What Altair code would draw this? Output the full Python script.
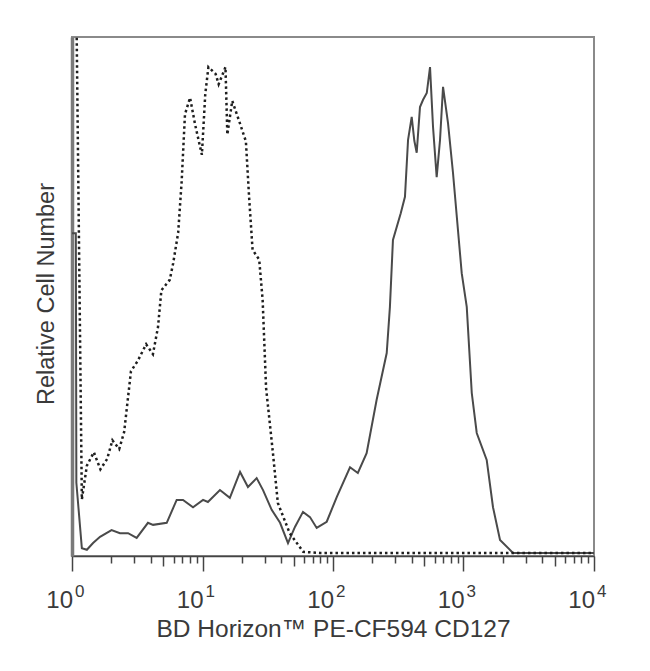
import altair as alt
import pandas as pd

# Solid histogram (stained sample)
solid_x = [1.0, 1.07, 1.08, 1.19, 1.30, 1.45, 1.64, 2.01, 2.33, 2.69, 3.13, 3.82, 4.18, 5.32,
           6.34, 7.09, 8.46, 10.1, 11.0, 13.6, 16.2, 19.4, 22.3, 26.0, 29.1, 33.9, 39.3,
           45.2, 51.1, 58.9, 66.6, 75.0, 89.5, 107, 135, 155, 181, 216, 258, 273, 288,
           330, 356, 376, 401, 420, 438, 464, 490, 523, 554, 584, 623, 661, 697, 761,
           831, 969, 1059, 1157, 1263, 1506, 1683, 1905, 2395, 10000]
solid_y = [62.2, 62.2, 14.1, 1.5, 1.2, 2.5, 3.7, 5.0, 4.4, 4.4, 3.5, 6.4, 6.0, 6.4,
           10.8, 10.8, 9.4, 10.8, 10.4, 12.7, 11.2, 16.2, 13.3, 15.0, 12.7, 8.9, 6.4,
           2.5, 5.6, 8.5, 7.5, 5.4, 6.6, 11.4, 17.1, 16.0, 19.8, 30.1, 39.1, 48.0, 60.9,
           66.0, 69.2, 80.2, 84.6, 80.0, 77.7, 86.5, 87.9, 89.2, 94.2, 82.7, 73.0, 80.2, 90.4, 83.4,
           73.8, 54.5, 48.0, 31.4, 23.7, 18.5, 9.4, 3.1, 0.6, 0.6]

# Dashed histogram (isotype control)
dashed_x = [1.0, 1.07, 1.19, 1.30, 1.47, 1.65, 1.86, 2.04, 2.30, 2.51, 2.83, 3.19, 3.70,
            4.17, 4.56, 4.84, 5.61, 5.96, 6.51, 6.92, 7.34, 8.03, 8.78, 9.89, 10.5, 11.1,
            12.6, 13.3, 15.0, 15.5, 16.9, 19.1, 21.5, 22.8, 24.2, 27.2, 28.9, 30.7, 34.6,
            37.8, 46.6, 59.1, 79.0, 10000]
dashed_y = [115, 115, 10.9, 17.4, 20.0, 16.7, 18.7, 22.3, 20.6, 23.9, 35.6, 37.6, 40.8,
            38.9, 44.1, 51.2, 53.2, 56.4, 62.3, 72.1, 85.1, 88.3, 83.1, 77.3, 89.0, 94.2,
            92.9, 90.9, 94.2, 81.2, 87.7, 83.8, 79.9, 68.8, 59.0, 57.1, 49.3, 32.4, 20.0,
            10.2, 4.4, 0.8, 0.6, 0.6]

decades = [1, 10, 100, 1000, 10000]
exponents = ["0", "1", "2", "3", "4"]
minor_ticks = [m * 10 ** k for k in range(4) for m in range(2, 10)]
tick_values = sorted(decades + minor_ticks)

solid_df = pd.DataFrame({"x": solid_x, "y": solid_y})
dashed_df = pd.DataFrame({"x": dashed_x, "y": dashed_y})
label_df = pd.DataFrame({"x": decades, "base": ["10"] * 5, "exp": exponents})

W, H = 522, 519
FONT = "Liberation Sans"
TXT = "#3a3a3a"

major_test = "abs(log(datum.value)/LN10 - round(log(datum.value)/LN10)) < 0.01"
five_test = "abs(log(datum.value/5)/LN10 - round(log(datum.value/5)/LN10)) < 0.01"

x_scale = alt.Scale(type="log", domain=[1, 10000])
y_scale = alt.Scale(domain=[0, 100])

x_axis = alt.Axis(
    values=tick_values, labels=False, grid=False,
    tickSize={"condition": [{"test": major_test, "value": 15},
                            {"test": five_test, "value": 10}], "value": 7},
    tickColor="#444444", tickWidth=1.5, domainColor="#444444", domainWidth=1.5,
    title="BD Horizon™ PE-CF594 CD127", titleFont=FONT, titleFontSize=24.5,
    titleFontWeight="normal", titleColor=TXT, titleX=W / 2, titleY=80,
    titleBaseline="alphabetic", titleAlign="center",
)
y_axis = alt.Axis(
    labels=False, ticks=False, domain=True, domainColor="#7a7a7a", domainWidth=3.5,
    grid=False,
    title="Relative Cell Number", titleFont=FONT, titleFontSize=23.5,
    titleFontWeight="normal", titleColor=TXT, titleX=-19, titleY=H / 2 - 3,
    titleBaseline="alphabetic", titleAlign="center", titleAngle=270,
)

solid = alt.Chart(solid_df).mark_line(clip=True, color="#4a4a4a", strokeWidth=2).encode(
    x=alt.X("x:Q", scale=x_scale, axis=x_axis),
    y=alt.Y("y:Q", scale=y_scale, axis=y_axis),
    order="x:Q",
)
dashed = alt.Chart(dashed_df).mark_line(clip=True, color="#1e1e1e", strokeWidth=2.5,
                                        strokeDash=[2.5, 3]).encode(
    x=alt.X("x:Q", scale=x_scale),
    y=alt.Y("y:Q", scale=y_scale),
    order="x:Q",
)
base_lbl = alt.Chart(label_df).mark_text(font=FONT, fontSize=24, color=TXT, align="right",
                                         baseline="alphabetic", dx=1).encode(
    x=alt.X("x:Q", scale=x_scale),
    y=alt.value(H + 52),
    text="base:N",
)
exp_lbl = alt.Chart(label_df).mark_text(font=FONT, fontSize=17, color=TXT, align="left",
                                        baseline="alphabetic", dx=3).encode(
    x=alt.X("x:Q", scale=x_scale),
    y=alt.value(H + 41),
    text="exp:N",
)

chart = alt.layer(solid, dashed, base_lbl, exp_lbl).properties(
    width=W, height=H,
    autosize=alt.AutoSizeParams(type="none"),
    padding={"left": 64, "top": 29, "right": 30, "bottom": 90},
    background="white",
).configure_view(stroke="#8a8a8a", strokeWidth=2)

chart.save("out.html", embed_options={"renderer": "svg", "actions": False})
